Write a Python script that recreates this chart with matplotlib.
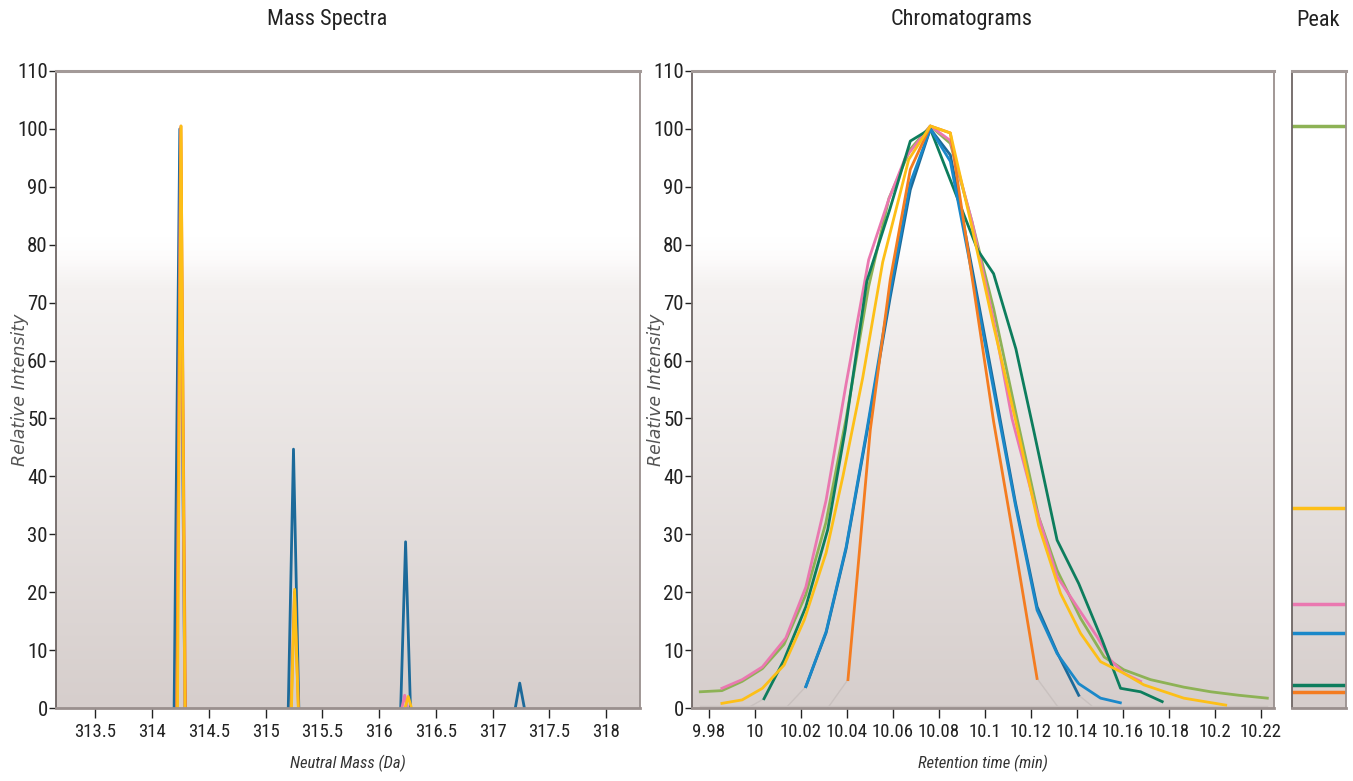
import matplotlib
matplotlib.use('Agg')
import matplotlib.pyplot as plt
import numpy as np
from matplotlib.colors import LinearSegmentedColormap

# ---- mass spectra: neutral mass (Da) vs relative intensity ----
# NaN breaks keep each isotope peak as its own stick
ms_blue_mass = [314.195, 314.245, 314.290, np.nan, 315.200, 315.246, 315.293, np.nan,
                316.190, 316.233, 316.276, np.nan, 317.199, 317.238, 317.279]
ms_blue_int = [0, 100.0, 0, np.nan, 0, 44.7, 0, np.nan, 0, 28.7, 0, np.nan, 0, 4.3, 0]
ms_pink_mass = [314.220, 314.252, 314.290, np.nan, 316.200, 316.225, 316.250]
ms_pink_int = [0, 100.0, 0, np.nan, 0, 2.2, 0]
ms_orange_mass = [314.218, 314.255, 314.295, np.nan, 315.225, 315.255, 315.290]
ms_orange_int = [0, 100.5, 0, np.nan, 0, 20.0, 0]
ms_yellow_mass = [314.225, 314.256, 314.290, np.nan, 315.228, 315.256, 315.288, np.nan,
                  316.228, 316.256, 316.285]
ms_yellow_int = [0, 100.5, 0, np.nan, 0, 20.5, 0, np.nan, 0, 2.0, 0]

# ---- chromatograms: retention time (min) vs relative intensity ----
olive_t = [9.9764, 9.9858, 9.9946, 10.0034, 10.0128, 10.0222, 10.0310, 10.0398,
           10.0496, 10.0584, 10.0677, 10.0764, 10.0851, 10.0945, 10.1039, 10.1141,
           10.1235, 10.1315, 10.1417, 10.1520, 10.1605, 10.1721, 10.1866, 10.1983,
           10.2105, 10.2229]
olive_v = [2.8, 3.0, 4.6, 6.8, 11.0, 19.5, 32.0, 50.0, 72.8, 88.0, 96.5, 100.5,
           97.5, 84.0, 69.0, 50.0, 33.0, 23.8, 15.5, 8.8, 6.6, 4.9, 3.6, 2.8, 2.2, 1.7]

pink_t = [9.9858, 9.9946, 10.0034, 10.0136, 10.0223, 10.0311, 10.0398, 10.0496,
          10.0583, 10.0655, 10.0764, 10.0851, 10.0945, 10.1039, 10.1119, 10.1215,
          10.1315, 10.1402, 10.1489, 10.1547, 10.1605, 10.1678]
pink_v = [3.4, 4.9, 7.1, 12.1, 20.9, 35.9, 56.0, 77.4, 87.8, 95.0, 100.5, 98.0,
          84.0, 67.0, 50.0, 35.5, 22.7, 17.5, 12.3, 8.3, 6.0, 4.6]

dgreen_t = [10.0041, 10.0128, 10.0223, 10.0318, 10.0394, 10.0488, 10.0587, 10.0677,
            10.0764, 10.0971, 10.1039, 10.1136, 10.1213, 10.1315, 10.1409, 10.1511,
            10.1591, 10.1678, 10.1772]
dgreen_v = [1.6, 8.3, 17.5, 30.8, 48.0, 73.7, 86.0, 97.9, 100.0, 79.0, 75.0, 62.0,
            48.0, 29.0, 21.5, 11.7, 3.4, 2.8, 1.1]

dblue_t = [10.0223, 10.0311, 10.0398, 10.0488, 10.0590, 10.0677, 10.0764, 10.0851,
           10.0945, 10.1039, 10.1134, 10.1228, 10.1315, 10.1409]
dblue_v = [3.7, 13.0, 27.5, 47.5, 71.0, 89.5, 100.0, 95.5, 76.0, 56.0, 35.5, 17.5,
           9.6, 2.2]

blue_t = [10.0223, 10.0311, 10.0398, 10.0488, 10.0590, 10.0677, 10.0764, 10.0851,
          10.0945, 10.1039, 10.1134, 10.1228, 10.1315, 10.1409, 10.1504, 10.1590]
blue_v = [3.7, 13.2, 27.8, 48.0, 72.0, 90.7, 100.0, 94.4, 75.0, 55.0, 35.0, 16.9,
          9.4, 4.2, 1.7, 0.9]

orange_t = [10.0406, 10.0503, 10.0590, 10.0677, 10.0764, 10.0851, 10.0945, 10.1039,
            10.1134, 10.1228]
orange_v = [4.9, 48.0, 74.0, 93.0, 100.5, 99.3, 74.5, 49.5, 27.5, 5.1]

yellow_t = [9.9858, 9.9946, 10.0034, 10.0128, 10.0216, 10.0311, 10.0384, 10.0470,
            10.0557, 10.0670, 10.0764, 10.0851, 10.0945, 10.1039, 10.1134, 10.1235,
            10.1330, 10.1417, 10.1504, 10.1605, 10.1692, 10.1866, 10.2048]
yellow_v = [0.8, 1.4, 3.4, 7.4, 15.2, 26.8, 40.0, 57.0, 77.0, 94.7, 100.5, 99.3,
            83.0, 66.0, 49.8, 31.5, 19.8, 12.9, 8.0, 6.0, 4.0, 1.7, 0.5]

# thin grey joins from trace ends down to the baseline
gap_t = [[10.0318, 10.0406], [10.1228, 10.1322], [10.0136, 10.0223],
         [9.9970, 10.0041], [10.1409, 10.1465], [9.9764, 10.2229]]
gap_v = [[0, 4.9], [5.1, 0], [0, 3.7], [0, 1.6], [2.2, 0.4], [0.4, 0.4]]

# ---- peak panel: relative abundance of each trace ----
peak_names = ['olive', 'yellow', 'pink', 'blue', 'dgreen', 'orange']
peak_level = [100.5, 34.5, 18.0, 13.0, 4.0, 2.7]

colors = {
    'olive': '#8db255', 'yellow': '#fdbf17', 'pink': '#ea78b0',
    'blue': '#1a88c9', 'dblue': '#1c6a9a', 'dgreen': '#0d7d5d',
    'orange': '#f47c20', 'gap': '#c9c1bf',
}

plt.rcParams['font.family'] = ['Roboto Condensed', 'DejaVu Sans']

W, H = 1353, 781
fig = plt.figure(figsize=(W / 100, H / 100), dpi=100)
ax1 = fig.add_axes([56 / W, 1 - 708 / H, 584 / W, 637 / H])
ax2 = fig.add_axes([692 / W, 1 - 708 / H, 582 / W, 637 / H])
ax3 = fig.add_axes([1292 / W, 1 - 708 / H, 54 / W, 637 / H])

bg = LinearSegmentedColormap.from_list(
    'bg', [(0, '#d6cecc'), (0.66, '#f4f1f0'), (0.71, '#fdfcfc'), (0.74, '#ffffff'),
           (1, '#ffffff')])


def shade(ax):
    grad = np.linspace(0, 1, 500).reshape(-1, 1)
    ax.imshow(grad, cmap=bg, origin='lower', extent=[0, 1, 0, 1],
              transform=ax.transAxes, aspect='auto', zorder=0)


def frame(ax):
    for side in ['left', 'right', 'bottom']:
        ax.spines[side].set_color('#9a908e')
        ax.spines[side].set_linewidth(1.3)
    ax.spines['top'].set_color('#a39a98')
    ax.spines['top'].set_linewidth(2.2)
    ax.spines['bottom'].set_linewidth(2.0)
    ax.spines['left'].set_color('#6e6664')


for ax in (ax1, ax2, ax3):
    shade(ax)
    frame(ax)

lw = 2.0

# mass spectra
ax1.plot(ms_blue_mass, ms_blue_int, color=colors['dblue'], lw=lw)
ax1.plot(ms_pink_mass, ms_pink_int, color=colors['pink'], lw=lw)
ax1.plot(ms_orange_mass, ms_orange_int, color=colors['orange'], lw=lw)
ax1.plot(ms_yellow_mass, ms_yellow_int, color=colors['yellow'], lw=lw)
ax1.set_xlim(313.155, 318.297)
ax1.set_xticks([313.5, 314, 314.5, 315, 315.5, 316, 316.5, 317, 317.5, 318])
ax1.set_xticklabels(['313.5', '314', '314.5', '315', '315.5', '316', '316.5',
                     '317', '317.5', '318'])

# chromatograms
for gt, gv in zip(gap_t, gap_v):
    ax2.plot(gt, gv, color=colors['gap'], lw=1.0)
ax2.plot(olive_t, olive_v, color=colors['olive'], lw=lw)
ax2.plot(pink_t, pink_v, color=colors['pink'], lw=lw)
ax2.plot(dgreen_t, dgreen_v, color=colors['dgreen'], lw=lw)
ax2.plot(dblue_t, dblue_v, color=colors['dblue'], lw=lw)
ax2.plot(blue_t, blue_v, color=colors['blue'], lw=lw)
ax2.plot(orange_t, orange_v, color=colors['orange'], lw=lw)
ax2.plot(yellow_t, yellow_v, color=colors['yellow'], lw=lw)
ax2.set_xlim(9.9728, 10.2258)
xt = [9.98, 10.0, 10.02, 10.04, 10.06, 10.08, 10.1, 10.12, 10.14, 10.16, 10.18,
      10.2, 10.22]
ax2.set_xticks(xt)
ax2.set_xticklabels(['9.98', '10', '10.02', '10.04', '10.06', '10.08', '10.1',
                     '10.12', '10.14', '10.16', '10.18', '10.2', '10.22'])

for ax in (ax1, ax2):
    ax.set_ylim(0, 110)
    ax.set_yticks(range(0, 111, 10))
    ax.tick_params(axis='both', direction='out', length=5, width=1.0,
                   color='#222222', labelsize=15, pad=1, labelcolor='#222222')
    ax.tick_params(axis='x', length=7, pad=4, labelsize=13.5)
    ax.set_ylabel('Relative Intensity', fontfamily='DejaVu Sans', style='italic',
                  fontsize=12.5, color='#555555')
    ax.yaxis.set_label_coords(-27 / 584, 0.5)

ax1.set_xlabel('Neutral Mass (Da)', style='italic', fontsize=12,
               color='#333333', labelpad=10)
ax2.set_xlabel('Retention time (min)', style='italic', fontsize=12,
               color='#333333', labelpad=10)

# peak panel
for name, level in zip(peak_names, peak_level):
    ax3.plot([0, 1], [level, level], color=colors[name], lw=2.5)
ax3.set_xlim(0, 1)
ax3.set_ylim(0, 110)
ax3.set_xticks([])
ax3.set_yticks([])

fig.text(327 / W, 1 - 20 / H, 'Mass Spectra', ha='center', va='center',
         fontsize=16, color='#222222')
fig.text(962 / W, 1 - 20 / H, 'Chromatograms', ha='center', va='center',
         fontsize=16, color='#222222')
fig.text(1318 / W, 1 - 20 / H, 'Peak', ha='center', va='center',
         fontsize=16, color='#222222')

fig.savefig('out.png', dpi=100, facecolor='white')
